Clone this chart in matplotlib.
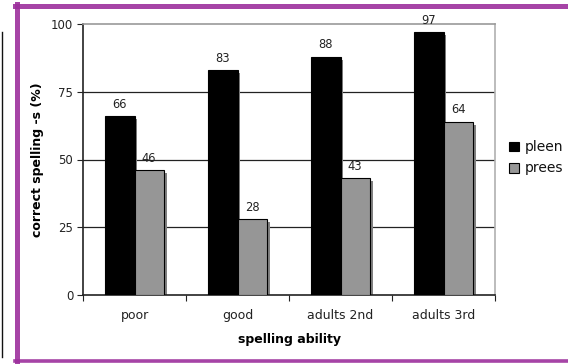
import matplotlib
matplotlib.use("Agg")
import matplotlib.pyplot as plt
from matplotlib.lines import Line2D
from matplotlib.patches import Rectangle
import numpy as np

categories = ["poor", "good", "adults 2nd", "adults 3rd"]
pleen = [66, 83, 88, 97]
prees = [46, 28, 43, 64]
series_names = ["pleen", "prees"]
y_ticks = [0, 25, 50, 75, 100]

W, H = 568, 364
fig = plt.figure(figsize=(W / 100, H / 100), dpi=100)
plt.rcParams["font.family"] = ["DejaVu Sans"]

ax = fig.add_axes([83 / W, 1 - 295 / H, (495 - 83) / W, (295 - 24) / H])

x = np.arange(len(categories))
bw = 0.285
shadow_dx, shadow_dy = 0.029, 1.1

# drop shadows behind the bars
for xs, vals in ((x - bw / 2, pleen), (x + bw / 2, prees)):
    ax.bar(xs + shadow_dx, np.array(vals) - shadow_dy, width=bw,
           color="#808080", edgecolor="none", zorder=2)

b1 = ax.bar(x - bw / 2, pleen, width=bw, color="black", edgecolor="black",
            linewidth=0.8, zorder=3, label=series_names[0])
b2 = ax.bar(x + bw / 2, prees, width=bw, color="#969696", edgecolor="black",
            linewidth=0.8, zorder=3, label=series_names[1])

for bars, vals in ((b1, pleen), (b2, prees)):
    for rect, v in zip(bars, vals):
        ax.annotate(str(v), (rect.get_x() + rect.get_width() / 2, v),
                    xytext=(0, 4), textcoords="offset points",
                    ha="center", va="bottom", fontsize=8.3, color="#222222",
                    zorder=4)

ax.set_xlim(-0.5, len(categories) - 0.5)
ax.set_ylim(0, 100)
ax.set_yticks(y_ticks)
ax.tick_params(axis="y", length=4, width=0.8, labelsize=8.5, pad=3,
               colors="#222222")
ax.set_xticks(x)
ax.set_xticklabels(categories, fontsize=9)
ax.tick_params(axis="x", which="major", length=0, pad=10, colors="#222222")
ax.set_xticks(np.arange(-0.5, len(categories)), minor=True)
ax.tick_params(axis="x", which="minor", length=4, width=0.8, color="#222222")

for yv in y_ticks[1:-1]:
    ax.axhline(yv, color="#222222", linewidth=0.9, zorder=1)

ax.spines["left"].set_color("#222222")
ax.spines["bottom"].set_color("#222222")
ax.spines["top"].set_color("#9a9a9a")
ax.spines["right"].set_color("#b0b0b0")
for s in ax.spines.values():
    s.set_linewidth(1.2)

ax.set_xlabel("spelling ability", fontsize=9, fontweight="bold", labelpad=8)
ax.set_ylabel("correct spelling -s (%)", fontsize=9, fontweight="bold",
              labelpad=5)

# legend
leg_items = [(series_names[0], "black"), (series_names[1], "#969696")]
for i, (name, col) in enumerate(leg_items):
    yc = 146.5 + i * 21.5
    fig.patches.append(Rectangle((509 / W, 1 - (yc + 4.5) / H), 9.5 / W, 9.5 / H,
                                 transform=fig.transFigure,
                                 facecolor=col, edgecolor="black",
                                 linewidth=0.8))
    fig.text(525 / W, 1 - yc / H, name, fontsize=10, va="center",
             ha="left", color="#111111")

# purple frame
purple = "#9c2f9c"
fig.add_artist(Line2D([15 / W, 1.0], [1 - 5.5 / H, 1 - 5.5 / H],
                      transform=fig.transFigure, color=purple,
                      linewidth=3.6, alpha=0.9))
fig.add_artist(Line2D([16.5 / W, 16.5 / W], [1 - 4 / H, 1 - 362 / H],
                      transform=fig.transFigure, color=purple,
                      linewidth=3.6, alpha=0.9))
fig.add_artist(Line2D([15 / W, 1.0], [1 - 361 / H, 1 - 361 / H],
                      transform=fig.transFigure, color=purple,
                      linewidth=2.6, alpha=0.9))
fig.add_artist(Line2D([1.5 / W, 1.5 / W], [1 - 32 / H, 1 - 357 / H],
                      transform=fig.transFigure, color="#111111",
                      linewidth=1.0))

fig.savefig("out.png", dpi=100)
